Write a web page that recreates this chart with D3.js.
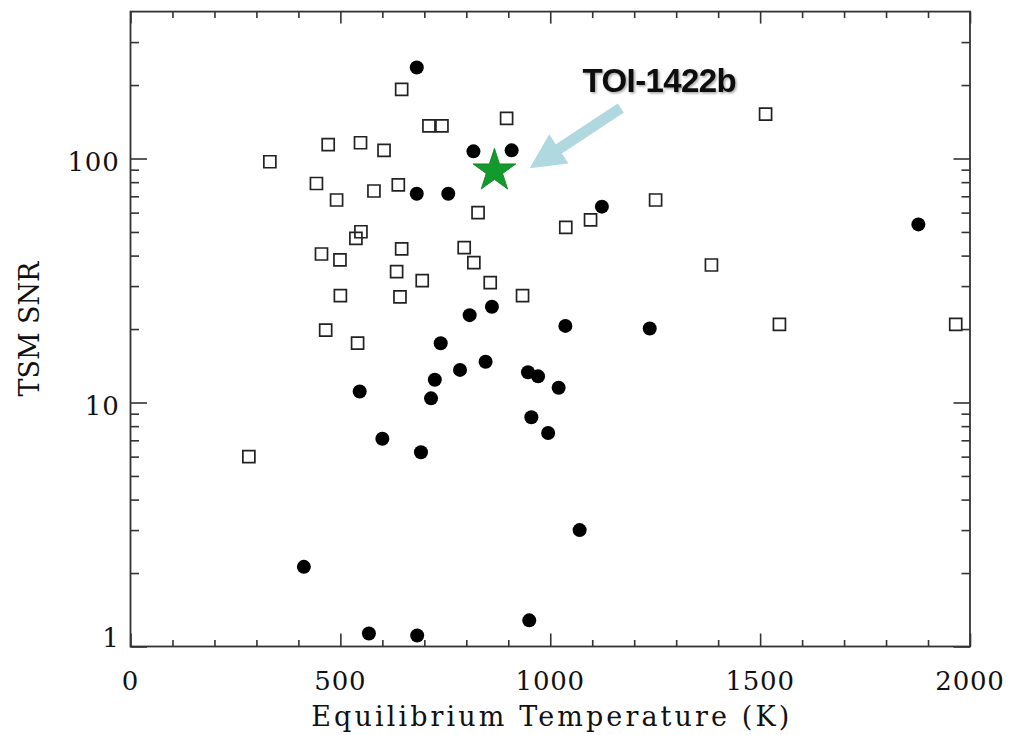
<!DOCTYPE html>
<html>
<head>
<meta charset="utf-8">
<script src="https://cdn.jsdelivr.net/npm/d3@7"></script>
<style>
  body { margin: 0; background: #fff; }
  svg { display: block; }
</style>
</head>
<body>
<svg id="chart" width="1015" height="735"></svg>
<script>
// Planets with measured masses (filled circles): equilibrium temperature (K) and TSM SNR
const massTemp = [682, 817, 908, 682, 757, 1123, 1877, 808, 861, 1036, 1237, 739, 846, 785, 725,
                  546, 716, 947, 971, 1020, 955, 995, 600, 692, 1070, 413, 568, 683, 950];
const massSNR  = [236, 107, 108, 71.7, 71.7, 63.5, 53.7, 22.8, 24.7, 20.6, 20.1, 17.5, 14.7, 13.6, 12.4,
                  11.1, 10.4, 13.3, 12.8, 11.5, 8.7, 7.5, 7.1, 6.25, 3.0, 2.12, 1.13, 1.11, 1.28];

// Candidates without mass measurements (open squares)
const candTemp = [646, 711, 742, 471, 548, 604, 332, 443, 491, 580, 638, 828, 549, 537, 646, 455, 499, 795,
                  818, 634, 695, 857, 500, 642, 934, 465, 541, 282, 1037, 1096, 1251, 1384, 1546, 1966, 1513, 896];
const candSNR  = [192, 136, 136, 114, 116, 108, 97, 79, 67.6, 73.6, 77.9, 60, 50.1, 47.1, 42.6, 40.6, 38.4, 43.1,
                  37.4, 34.4, 31.6, 31.0, 27.4, 27.1, 27.4, 19.8, 17.5, 6.0, 52.2, 56.0, 67.6, 36.6, 20.9, 20.9, 152, 146];

// Highlighted planet
const targetName = "TOI-1422b";
const targetTemp = 867;
const targetSNR = 89;

// Annotation arrow (tail -> tip) and label anchor, in data units
const arrowTail = [1168, 161];
const arrowTip  = [951, 91.2];
const labelAt   = [1077, 187];

// Axis ticks and labels
const xMajorTicks = [0, 500, 1000, 1500, 2000];
const xMinorTicks = [100, 200, 300, 400, 600, 700, 800, 900, 1100, 1200, 1300, 1400, 1600, 1700, 1800, 1900];
const yMajorTicks = [1, 10, 100];
const yMinorTicks = [2, 3, 4, 5, 6, 7, 8, 9, 20, 30, 40, 50, 60, 70, 80, 90, 200, 300];
const xTitle = "Equilibrium Temperature (K)";
const yTitle = "TSM SNR";

const svg = d3.select("#chart");
const plotLeft = 130.5, plotRight = 970, plotTop = 11.6, plotBottom = 646.5;

const x = d3.scaleLinear().domain([0, 2000]).range([plotLeft, plotRight]);
const y = d3.scaleLog().domain([1, 400]).range([plotBottom, plotTop]);

svg.append("rect").attr("width", 1015).attr("height", 735).attr("fill", "#fff");

const axisColor = "#333";
const serif = "'DejaVu Serif', 'Liberation Serif', serif";

// Tick marks on all four sides, pointing inward
function ticks(axis, size, pos) {
  const g = svg.append("g").attr("transform", pos).call(axis.tickSize(size).tickFormat(""));
  g.select(".domain").remove();
  g.selectAll("line").attr("stroke", axisColor).attr("stroke-width", 1.6);
}
ticks(d3.axisBottom(x).tickValues(xMajorTicks), -13, `translate(0,${plotBottom})`);
ticks(d3.axisBottom(x).tickValues(xMinorTicks), -6.5, `translate(0,${plotBottom})`);
ticks(d3.axisTop(x).tickValues(xMajorTicks), -12, `translate(0,${plotTop})`);
ticks(d3.axisTop(x).tickValues(xMinorTicks), -6.5, `translate(0,${plotTop})`);
ticks(d3.axisLeft(y).tickValues(yMajorTicks), -16.5, `translate(${plotLeft},0)`);
ticks(d3.axisLeft(y).tickValues(yMinorTicks), -8.5, `translate(${plotLeft},0)`);
ticks(d3.axisRight(y).tickValues(yMajorTicks), -16.5, `translate(${plotRight},0)`);
ticks(d3.axisRight(y).tickValues(yMinorTicks), -8.5, `translate(${plotRight},0)`);

// Plot frame
svg.append("rect")
  .attr("x", plotLeft).attr("y", plotTop)
  .attr("width", plotRight - plotLeft).attr("height", plotBottom - plotTop)
  .attr("fill", "none").attr("stroke", axisColor).attr("stroke-width", 1.8);

// Tick labels
svg.append("g").selectAll("text").data(xMajorTicks).join("text")
  .attr("x", d => x(d)).attr("y", plotBottom + 43)
  .attr("text-anchor", "middle")
  .attr("font-family", serif).attr("font-size", 26).attr("letter-spacing", 0.8)
  .attr("fill", "#111")
  .text(d => d);

svg.append("g").selectAll("text").data(yMajorTicks).join("text")
  .attr("x", plotLeft - 11).attr("y", d => y(d) + (d === 1 ? 0.5 : 12))
  .attr("text-anchor", "end")
  .attr("font-family", serif).attr("font-size", 26).attr("letter-spacing", 0.8)
  .attr("fill", "#111")
  .text(d => d);

// Axis titles
svg.append("text")
  .attr("x", (plotLeft + plotRight) / 2).attr("y", 726)
  .attr("text-anchor", "middle")
  .attr("font-family", serif).attr("font-size", 27)
  .attr("textLength", 478).attr("lengthAdjust", "spacing")
  .attr("fill", "#111")
  .text(xTitle);

svg.append("text")
  .attr("transform", `translate(39,${(plotTop + plotBottom) / 2}) rotate(-90)`)
  .attr("text-anchor", "middle")
  .attr("font-family", serif).attr("font-size", 27)
  .attr("textLength", 135).attr("lengthAdjust", "spacing")
  .attr("fill", "#111")
  .text(yTitle);

// Open squares
const square = d3.symbol().type(d3.symbolSquare).size(144);
svg.append("g").selectAll("path").data(candTemp).join("path")
  .attr("d", square)
  .attr("transform", (d, i) => `translate(${x(d)},${y(candSNR[i])})`)
  .attr("fill", "none").attr("stroke", "#222").attr("stroke-width", 1.7);

// Filled circles
svg.append("g").selectAll("circle").data(massTemp).join("circle")
  .attr("cx", d => x(d)).attr("cy", (d, i) => y(massSNR[i]))
  .attr("r", 7).attr("fill", "#000");

// Arrow pointing at the highlighted planet
{
  const [tx, ty] = [x(arrowTail[0]), y(arrowTail[1])];
  const [px, py] = [x(arrowTip[0]), y(arrowTip[1])];
  const len = Math.hypot(px - tx, py - ty);
  const ux = (px - tx) / len, uy = (py - ty) / len;
  const nx = -uy, ny = ux;
  const shaftHalf = 5.5, headHalf = 17.5, headLen = 35;
  const bx = px - ux * headLen, by = py - uy * headLen;
  const pts = [
    [tx + nx * shaftHalf, ty + ny * shaftHalf],
    [bx + nx * shaftHalf, by + ny * shaftHalf],
    [bx + nx * headHalf, by + ny * headHalf],
    [px, py],
    [bx - nx * headHalf, by - ny * headHalf],
    [bx - nx * shaftHalf, by - ny * shaftHalf],
    [tx - nx * shaftHalf, ty - ny * shaftHalf]
  ];
  svg.append("path")
    .attr("d", "M" + pts.map(p => p.join(",")).join("L") + "Z")
    .attr("fill", "#b0d9df");
}

// Highlighted planet star
svg.append("path")
  .attr("d", d3.symbol().type(d3.symbolStar).size(568))
  .attr("transform", `translate(${x(targetTemp)},${y(targetSNR)})`)
  .attr("fill", "#139a2d").attr("stroke", "#0d7a22").attr("stroke-width", 0.8);

// Label with a soft shadow
const defs = svg.append("defs");
const f = defs.append("filter").attr("id", "shadow").attr("x", "-10%").attr("y", "-20%")
  .attr("width", "130%").attr("height", "150%");
f.append("feDropShadow").attr("dx", 1.5).attr("dy", 1.5).attr("stdDeviation", 1.2)
  .attr("flood-color", "#000").attr("flood-opacity", 0.35);

svg.append("text")
  .attr("x", x(labelAt[0])).attr("y", y(labelAt[1]))
  .attr("font-family", "'Liberation Sans', Arial, sans-serif")
  .attr("font-weight", "bold").attr("font-size", 33)
  .attr("letter-spacing", -0.6)
  .attr("fill", "#111")
  .attr("filter", "url(#shadow)")
  .text(targetName);
</script>
</body>
</html>
